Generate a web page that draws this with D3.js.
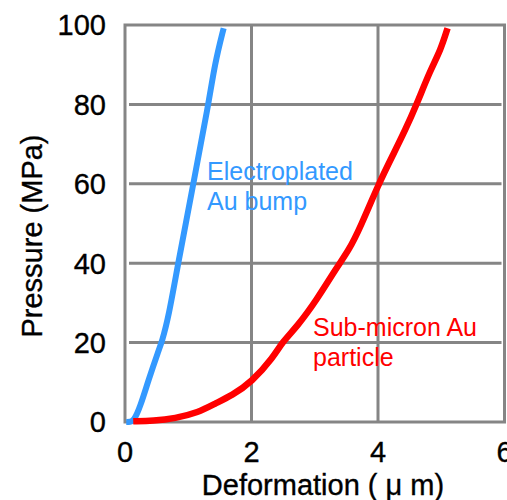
<!DOCTYPE html>
<html lang="en">
<head>
<meta charset="UTF-8">
<title>Pressure vs Deformation</title>
<script src="https://d3js.org/d3.v7.min.js"></script>
<style>
    body { margin: 0; background: #fff; }
    svg text { font-family: "Liberation Sans", Arial, sans-serif; }
    .dark { fill: #000; stroke: #000; stroke-width: 0.35px; }
</style>
</head>
<body>
<svg id="chart" width="507" height="500"></svg>
<script>
    // axis ticks
    const xTicks = [0, 2, 4, 6];
    const yTicks = [0, 20, 40, 60, 80, 100];

    // electroplated Au bump (blue)
    const bumpX = [0.02, 0.08, 0.14, 0.24, 0.37, 0.53, 0.58, 0.69, 0.84, 1.08, 1.32, 1.42, 1.56];
    const bumpY = [0, 0, 0.3, 3.8, 10.5, 18, 20, 26.5, 40, 60, 80, 90.3, 99.2];

    // sub-micron Au particle (red)
    const partX = [0.13, 0.45, 0.79, 1.16, 1.42, 1.69, 2.0, 2.35, 2.48, 2.72, 3.03, 3.35, 3.54, 3.72, 4.01, 4.25, 4.43, 4.61, 4.83, 4.99, 5.10];
    const partY = [0.2, 0.3, 0.9, 2.4, 4.6, 6.7, 10, 16.4, 20, 24, 30.7, 39, 43.3, 49, 60, 67.7, 73.5, 80, 88.7, 93.7, 99.2];

    const svg = d3.select("#chart");
    const x = d3.scaleLinear().domain([0, 6]).range([125, 504.5]);
    const y = d3.scaleLinear().domain([0, 100]).range([422, 25]);
    const grey = "#858585";

    // horizontal grid (slightly inset from the frame)
    svg.append("g").selectAll("line")
        .data(yTicks.slice(1, -1))
        .join("line")
        .attr("x1", x(0) + 4).attr("x2", x(6) - 3)
        .attr("y1", d => y(d)).attr("y2", d => y(d))
        .attr("stroke", grey).attr("stroke-width", 3);

    // vertical grid
    svg.append("g").selectAll("line")
        .data(xTicks.slice(1, -1))
        .join("line")
        .attr("x1", d => x(d)).attr("x2", d => x(d))
        .attr("y1", y(100)).attr("y2", y(0))
        .attr("stroke", grey).attr("stroke-width", 3);

    // frame
    svg.append("rect")
        .attr("x", x(0)).attr("y", y(100))
        .attr("width", x(6) - x(0)).attr("height", y(0) - y(100))
        .attr("fill", "none").attr("stroke", grey).attr("stroke-width", 3);

    const line = d3.line()
        .x(d => x(d[0]))
        .y(d => y(d[1]))
        .curve(d3.curveBasis);

    svg.append("path")
        .datum(bumpX.map((v, i) => [v, bumpY[i]]))
        .attr("d", line)
        .attr("fill", "none").attr("stroke", "#3399ff").attr("stroke-width", 6);

    svg.append("path")
        .datum(partX.map((v, i) => [v, partY[i]]))
        .attr("d", line)
        .attr("fill", "none").attr("stroke", "#ff0000").attr("stroke-width", 6.5);

    // tick labels
    svg.append("g").selectAll("text")
        .data(yTicks)
        .join("text")
        .attr("class", "dark")
        .attr("x", 106).attr("y", d => y(d))
        .attr("dy", "0.36em")
        .attr("text-anchor", "end")
        .style("font-size", "29px")
        .text(d => d);

    svg.append("g").selectAll("text")
        .data(xTicks)
        .join("text")
        .attr("class", "dark")
        .attr("x", d => x(d)).attr("y", 462)
        .attr("text-anchor", "middle")
        .style("font-size", "29px")
        .text(d => d);

    // axis titles
    svg.append("text")
        .attr("class", "dark")
        .attr("transform", "translate(42,236) rotate(-90)")
        .attr("text-anchor", "middle")
        .style("font-size", "29px")
        .text("Pressure (MPa)");

    svg.append("text")
        .attr("class", "dark")
        .attr("x", 323).attr("y", 495)
        .attr("text-anchor", "middle")
        .style("font-size", "29px")
        .text("Deformation ( \u03bc m)");

    // series labels
    const bumpLabel = svg.append("text")
        .attr("x", 207).attr("y", 180)
        .attr("fill", "#3399ff")
        .style("font-size", "25px");
    bumpLabel.append("tspan").attr("x", 207).text("Electroplated");
    bumpLabel.append("tspan").attr("x", 207).attr("dy", 30).text("Au bump");

    const partLabel = svg.append("text")
        .attr("x", 313).attr("y", 336)
        .attr("fill", "#ff0000")
        .style("font-size", "25px");
    partLabel.append("tspan").attr("x", 313).text("Sub-micron Au");
    partLabel.append("tspan").attr("x", 313).attr("dy", 30).text("particle");
</script>
</body>
</html>
